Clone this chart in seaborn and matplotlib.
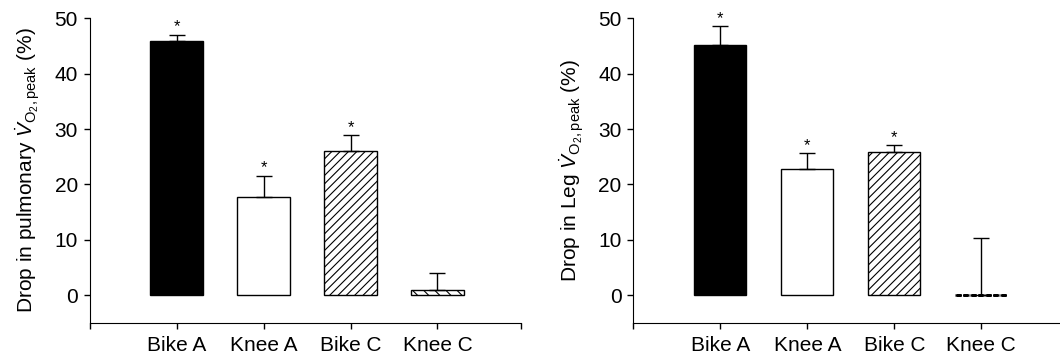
import seaborn as sns
import numpy as np
import pandas as pd
import matplotlib.pyplot as plt

# data
conditions = ['Bike A', 'Knee A', 'Bike C', 'Knee C']
pulm_drop = [45.9, 17.7, 26.1, 1.0]
pulm_sem = [1.2, 3.9, 2.8, 3.0]
leg_drop = [45.2, 22.8, 25.9, 0.0]
leg_sem = [3.4, 2.9, 1.2, 10.4]
signif = [True, True, True, False]

faces = ['black', 'white', 'white', 'white']
hatches = ['', '', '////', '\\\\\\']

sns.set_style('ticks', {'axes.edgecolor': 'black', 'xtick.color': 'black',
                        'ytick.color': 'black', 'text.color': 'black',
                        'axes.labelcolor': 'black'})
plt.rcParams['font.family'] = ['Liberation Sans', 'DejaVu Sans']
plt.rcParams['mathtext.fontset'] = 'custom'
plt.rcParams['mathtext.rm'] = 'Liberation Sans'
plt.rcParams['mathtext.it'] = 'Liberation Sans:italic'
plt.rcParams['hatch.linewidth'] = 0.8

fig = plt.figure(figsize=(10.6, 3.55), dpi=100)
ax1 = fig.add_axes([0.0845, 0.091, 0.407, 0.857])
ax2 = fig.add_axes([0.5975, 0.091, 0.407, 0.857])


def draw_panel(ax, vals, errs, ylabel):
    df = pd.DataFrame({'cond': conditions, 'val': vals})
    sns.barplot(data=df, x='cond', y='val', ax=ax, width=0.6, color='white',
                edgecolor='black', linewidth=1.0, saturation=1)
    for p, fc, h in zip(ax.patches, faces, hatches):
        p.set_facecolor(fc)
        p.set_hatch(h)
        if p.get_height() == 0:
            # a zero bar shows as a thick hatched line
            p.set_linewidth(1.8)
            p.set_linestyle((0, (2, 1)))
    xs = np.arange(len(conditions))
    ax.errorbar(xs, vals, yerr=[np.zeros(len(vals)), errs], fmt='none',
                ecolor='black', elinewidth=1.0, capsize=6, capthick=1.0)
    for x, v, e, s in zip(xs, vals, errs, signif):
        if s:
            ax.annotate('*', (x, v + e), xytext=(0, 0), textcoords='offset points',
                        ha='center', va='bottom', fontsize=12)
    ax.set_xlim(-1, 3.96)
    ax.set_ylim(-5, 50)
    ax.set_yticks([0, 10, 20, 30, 40, 50])
    ax.set_xticks([-1, 3.96], minor=True)
    ax.set_xlabel('')
    ax.set_ylabel(ylabel, fontsize=15, labelpad=9)
    ax.tick_params(labelsize=15, length=4.5, width=1, pad=4)
    ax.tick_params(axis='x', pad=5)
    ax.tick_params(axis='x', which='minor', length=4.5, width=1)
    sns.despine(ax=ax)


draw_panel(ax1, pulm_drop, pulm_sem,
           r'Drop in pulmonary $\dot{V}_{\mathrm{O_2,peak}}$ (%)')
draw_panel(ax2, leg_drop, leg_sem,
           r'Drop in Leg $\dot{V}_{\mathrm{O_2,peak}}$ (%)')

fig.savefig('out.png', dpi=100)
